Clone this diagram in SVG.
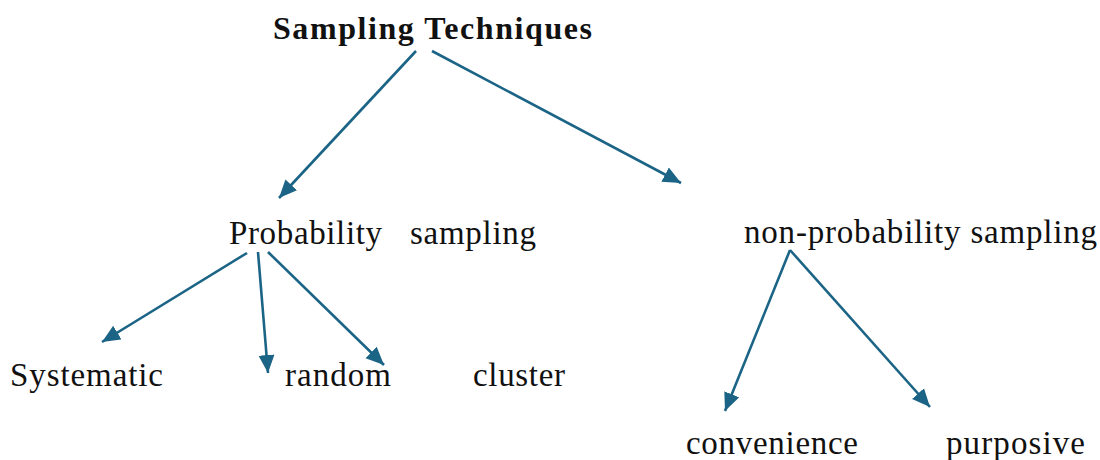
<svg xmlns="http://www.w3.org/2000/svg" width="1100" height="460" viewBox="0 0 1100 460">
  <defs>
    <style>
      text { font-family: 'Liberation Serif', 'Times New Roman', Times, serif; font-size: 33px; fill: #111; }
      .b { font-weight: bold; font-size: 32px; }
      .c { stroke: #1b6486; stroke-width: 2.6; fill: none; marker-end: url(#ah); }
    </style>
    <marker id="ah" markerUnits="userSpaceOnUse" markerWidth="20" markerHeight="18" refX="18" refY="8" orient="auto">
      <path d="M0,0 L18,8 L0,16 z" fill="#1b6486"/>
    </marker>
  </defs>
  <rect width="1100" height="460" fill="#ffffff"/>
  <g id="connectors">
    <line class="c" x1="416" y1="51" x2="279" y2="198"/>
    <line class="c" x1="432" y1="51" x2="681" y2="183"/>
    <line class="c" x1="247" y1="253" x2="102" y2="342"/>
    <line class="c" x1="258" y1="252" x2="268" y2="373"/>
    <line class="c" x1="268" y1="252" x2="384" y2="365"/>
    <line class="c" x1="790" y1="250" x2="725" y2="411"/>
    <line class="c" x1="790" y1="250" x2="930" y2="407"/>
  </g>
  <g id="root"><text class="b" x="273" y="39" textLength="319" lengthAdjust="spacing">Sampling Techniques</text></g>
  <g id="probability"><text x="229" y="244" textLength="153" lengthAdjust="spacing">Probability</text><text x="410" y="244" textLength="126" lengthAdjust="spacing">sampling</text></g>
  <g id="nonprobability"><text x="744" y="243" textLength="353" lengthAdjust="spacing">non-probability sampling</text></g>
  <g id="systematic"><text x="10" y="386" textLength="153" lengthAdjust="spacing">Systematic</text></g>
  <g id="random"><text x="285" y="386" textLength="106" lengthAdjust="spacing">random</text></g>
  <g id="cluster"><text x="473" y="386" textLength="92" lengthAdjust="spacing">cluster</text></g>
  <g id="convenience"><text x="686" y="454" textLength="172" lengthAdjust="spacing">convenience</text></g>
  <g id="purposive"><text x="946" y="454" textLength="139" lengthAdjust="spacing">purposive</text></g>
</svg>
